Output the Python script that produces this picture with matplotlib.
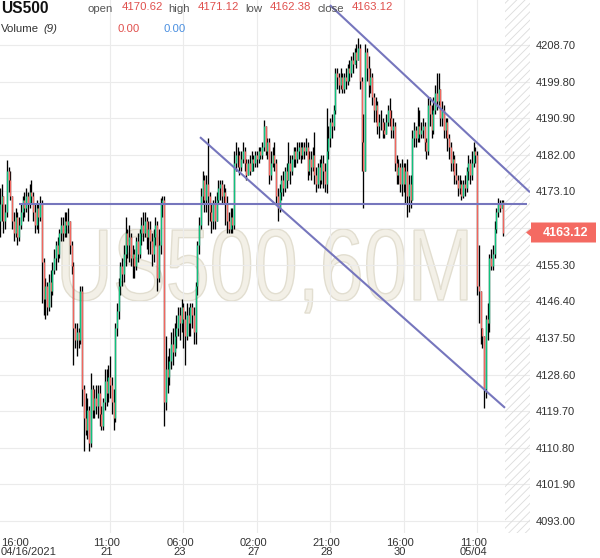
import numpy as np
import matplotlib.pyplot as plt
from matplotlib.patches import PathPatch, Polygon
from matplotlib.textpath import TextPath
from matplotlib.font_manager import FontProperties
from matplotlib.transforms import Affine2D, IdentityTransform

plt.rcParams['font.family'] = ['Liberation Sans', 'DejaVu Sans']
plt.rcParams['hatch.linewidth'] = 0.6

symbol = 'US500'
period = '60M'
volume_values = [0.00, 0.00]

# hourly candles, open of each bar = previous close
first_open = 4166.0
closes = [
    4170, 4172, 4166, 4168, 4178, 4176, 4172, 4166, 4163, 4167,
    4162, 4165, 4168, 4171, 4169, 4172, 4170, 4173, 4172, 4168,
    4165, 4169, 4167, 4170, 4156, 4147, 4150, 4145, 4151, 4149,
    4154, 4157, 4160, 4158, 4163, 4165, 4163, 4166, 4165, 4166,
    4160, 4155, 4140, 4137, 4139, 4137, 4149, 4125, 4118, 4115,
    4120, 4112, 4125, 4120, 4123, 4121, 4124, 4119, 4116, 4122,
    4127, 4124, 4128, 4126, 4122, 4118, 4140, 4144, 4150, 4155,
    4153, 4158, 4163, 4160, 4162, 4157, 4158, 4155, 4161, 4158,
    4163, 4165, 4163, 4166, 4162, 4164, 4161, 4158, 4162, 4165,
    4152, 4160, 4170, 4171, 4122, 4130, 4128, 4132, 4136, 4134,
    4138, 4140, 4143, 4141, 4145, 4142, 4138, 4143, 4141, 4145,
    4143, 4139, 4150, 4160, 4165, 4172, 4176, 4171, 4175, 4172,
    4168, 4166, 4170, 4166, 4171, 4174, 4175, 4172, 4173, 4170,
    4166, 4164, 4167, 4165, 4180, 4182, 4182, 4179, 4181, 4183,
    4180, 4177, 4180, 4178, 4181, 4180, 4182, 4181, 4183, 4182,
    4184, 4189, 4183, 4185, 4177, 4180, 4182, 4180, 4172, 4169,
    4173, 4176, 4174, 4178, 4176, 4180, 4178, 4181, 4183, 4181,
    4183, 4184, 4182, 4184, 4183, 4184, 4178, 4181, 4179, 4182,
    4177, 4175, 4179, 4176, 4180, 4178, 4175, 4183, 4186, 4190,
    4189, 4193, 4202, 4201, 4199, 4201, 4198, 4201, 4200, 4203,
    4202, 4205, 4204, 4207, 4205, 4208, 4200, 4185, 4178, 4207,
    4203, 4199, 4201, 4196, 4193, 4194, 4189, 4190, 4190, 4188,
    4187, 4190, 4193, 4191, 4188, 4189, 4180, 4177, 4179, 4175,
    4179, 4175, 4178, 4172, 4175, 4171, 4186, 4188, 4186, 4189,
    4187, 4188, 4189, 4185, 4183, 4194, 4192, 4188, 4193, 4197,
    4195, 4198, 4191, 4193, 4188, 4190, 4186, 4184, 4180, 4181,
    4177, 4176, 4174, 4175, 4172, 4175, 4174, 4178, 4180, 4177,
    4180, 4183, 4182, 4150, 4149, 4140, 4138, 4125, 4142, 4141,
    4157, 4155, 4158, 4164, 4168, 4170, 4169, 4170.62, 4163.12,
]
highs = [
    4174, 4175, 4172, 4170, 4180.7, 4179, 4178, 4172, 4168, 4169,
    4168, 4167, 4170, 4172, 4173, 4174, 4173, 4175, 4176, 4173,
    4170, 4171, 4170, 4172, 4171, 4157, 4152, 4151, 4153, 4154,
    4156, 4159, 4161, 4162, 4164, 4167, 4167, 4168, 4168, 4169,
    4166, 4161, 4156, 4141, 4141, 4140, 4150, 4150, 4126, 4124,
    4123, 4121, 4129, 4126, 4125, 4126, 4126, 4126, 4121, 4123,
    4130, 4130, 4131, 4133, 4128, 4125, 4141, 4146, 4152, 4156,
    4157, 4160, 4167, 4164, 4165, 4163, 4160, 4159, 4162, 4163,
    4164, 4167, 4168, 4168, 4167, 4166, 4166, 4163, 4164, 4167,
    4166, 4164, 4171.5, 4172, 4172, 4138, 4133, 4135, 4139, 4140,
    4141, 4143, 4145, 4145, 4147, 4146, 4144, 4146, 4145, 4146,
    4146, 4145, 4151, 4161, 4167, 4174, 4178, 4177, 4177, 4186,
    4173, 4170, 4171, 4172, 4173, 4176, 4176, 4176, 4175, 4174,
    4172, 4168, 4169, 4169, 4183, 4185, 4184, 4183, 4183, 4185,
    4184, 4181, 4181, 4182, 4183, 4182, 4183, 4183, 4184, 4184,
    4185, 4190.5, 4189, 4186, 4186, 4183, 4184, 4185, 4181, 4174,
    4175, 4177, 4178, 4179, 4180, 4185, 4182, 4182, 4184, 4184,
    4185, 4185, 4185, 4185, 4185, 4186, 4185, 4183, 4183, 4184,
    4187.5, 4179, 4180, 4181, 4182, 4182, 4180, 4193.5, 4189, 4191,
    4192, 4194, 4203, 4203, 4202, 4203, 4202, 4202, 4203, 4204,
    4205, 4206, 4207, 4208, 4209, 4210.5, 4209, 4201, 4192, 4209,
    4208, 4206, 4203, 4202, 4197, 4196, 4195, 4192, 4193, 4191,
    4190, 4192, 4194, 4195.8, 4193, 4191, 4190, 4182, 4181, 4180,
    4181, 4180, 4180, 4181, 4177, 4177, 4188, 4190, 4189, 4193.6,
    4193, 4190, 4191, 4190, 4186, 4196, 4196, 4194, 4196, 4199,
    4202, 4202, 4198, 4195, 4194, 4191, 4191, 4187, 4185, 4183,
    4182, 4180, 4177, 4177, 4176, 4176, 4177, 4179, 4182, 4181,
    4183, 4185, 4184, 4183, 4160, 4149, 4140, 4138, 4143, 4146,
    4158, 4159, 4160, 4166, 4169, 4171.5, 4171, 4171, 4171.12,
]
lows = [
    4162, 4166, 4163, 4164, 4167, 4173, 4171, 4164, 4161, 4162,
    4160, 4161, 4164, 4166, 4167, 4168, 4166, 4169, 4170, 4166,
    4163, 4164, 4163, 4166, 4146, 4143, 4142, 4143, 4144, 4145,
    4148, 4153, 4154, 4156, 4157, 4161, 4161, 4162, 4162, 4163,
    4158, 4153, 4131, 4135, 4133, 4135, 4136, 4121, 4110, 4114,
    4113, 4110, 4111, 4118, 4118, 4119, 4118, 4116, 4115, 4115,
    4120, 4121, 4122, 4123, 4119, 4115, 4117, 4138, 4142, 4148,
    4150, 4151, 4155, 4157, 4156, 4155, 4152, 4152, 4154, 4156,
    4157, 4160, 4161, 4162, 4159, 4158, 4158, 4155, 4156, 4160,
    4149, 4151, 4158, 4167, 4116, 4120, 4124, 4126, 4130, 4131,
    4133, 4135, 4138, 4137, 4139, 4135, 4131, 4137, 4138, 4138,
    4140, 4136, 4136, 4148, 4158, 4164, 4170, 4168, 4168, 4165,
    4166, 4163, 4164, 4164, 4166, 4170, 4171, 4170, 4170, 4165,
    4163, 4163, 4163, 4163, 4164, 4178, 4179, 4177, 4178, 4180,
    4178, 4176, 4177, 4177, 4178, 4178, 4179, 4179, 4180, 4181,
    4181, 4183, 4182, 4181, 4175, 4176, 4179, 4178, 4170, 4166,
    4168, 4171, 4172, 4173, 4174, 4176, 4175, 4177, 4179, 4179,
    4180, 4181, 4180, 4181, 4181, 4182, 4176, 4177, 4176, 4178,
    4175, 4173, 4174, 4174, 4175, 4174, 4173, 4172.7, 4181, 4184,
    4186, 4188, 4192, 4198, 4197, 4198, 4197, 4197, 4198, 4199,
    4200, 4201, 4202, 4204, 4203, 4205, 4198, 4178, 4169, 4178,
    4200, 4196, 4197, 4194, 4190, 4190, 4187, 4186, 4188, 4186,
    4186, 4187, 4189, 4189, 4186, 4186, 4178, 4175, 4175, 4173,
    4172, 4173, 4170, 4167, 4168, 4169, 4171, 4184, 4184, 4185,
    4185, 4186, 4186, 4183, 4181, 4182, 4189, 4186, 4187, 4192,
    4193, 4194, 4189, 4189, 4186, 4186, 4183, 4181, 4178, 4178,
    4175, 4175, 4172, 4172.5, 4171, 4171.5, 4172, 4173, 4176, 4175,
    4176, 4179, 4180, 4148, 4141, 4136, 4135, 4120.5, 4123, 4137,
    4139, 4154, 4154, 4157, 4163, 4167, 4168, 4169, 4162.38,
]

x_tick_bars = [21, 63, 105, 147, 189, 231, 273]
x_tick_labels = ['16:00\n04/16/2021', '11:00\n21', '06:00\n23', '02:00\n27',
                 '21:00\n28', '16:00\n30', '11:00\n05/04']
y_ticks = [4093.00, 4101.90, 4110.80, 4119.70, 4128.60, 4137.50, 4146.40,
           4155.30, 4164.20, 4173.10, 4182.00, 4190.90, 4199.80, 4208.70]

# trend lines drawn on the chart, as (bar, price) ends
hline_bars = [10.9, 301.5]
hline_prices = [4170.05, 4170.05]
upper_bars = [188.8, 303.3]
upper_prices = [4218.4, 4172.9]
lower_bars = [114.5, 289.0]
lower_prices = [4186.3, 4120.5]
future_start = 289.0

GREEN = '#0fc27d'
RED = '#f2665e'
LINE = '#7676bd'
GRID = '#ebebeb'

c = np.array(closes, dtype=float)
o = np.array([first_open] + closes[:-1], dtype=float)
h = np.maximum(np.array(highs, dtype=float), np.maximum(o, c))
l = np.minimum(np.array(lows, dtype=float), np.minimum(o, c))
bars = np.arange(len(c))
body_colors = np.where(c >= o, GREEN, RED)

W, H = 600, 558
fig = plt.figure(figsize=(6, 5.58), dpi=100)
ax = fig.add_axes([0, 25 / H, 530 / W, 533 / H])
ax.set_xlim(0.06, 303.3)
ax.set_ylim(4090.07, 4219.64)
for s in ax.spines.values():
    s.set_visible(False)

# watermark
fp = FontProperties(family='Liberation Sans')
tp = TextPath((0, 0), symbol + ',' + period, size=100, prop=fp)
cap = TextPath((0, 0), symbol, size=100, prop=fp).get_extents()
ext = tp.get_extents()
sx = 405 / ext.width
sy = 72 / cap.height
tr = Affine2D().translate(-ext.x0, 0).scale(sx, sy).translate(62, H - 300)
wm = PathPatch(tr.transform_path(tp), facecolor='#f3f0e7', edgecolor='#e2ded0',
               lw=1.0, transform=IdentityTransform(), zorder=0.5)
ax.add_patch(wm)

# grid
for yt in y_ticks:
    ax.axhline(yt, color=GRID, lw=0.8, zorder=1)
for xb in x_tick_bars[1:]:
    ax.axvline(xb, color=GRID, lw=0.8, zorder=1)

# future area
ax.axvspan(future_start, 303.3, facecolor='none', edgecolor='#dcdcdc',
           hatch='////', lw=0, zorder=1)

# candles
ax.vlines(bars, l, h, color='black', lw=0.95, zorder=2)
ax.vlines(bars, o, c, color=body_colors, lw=0.95, zorder=3)

# trend lines
for bx, py in [(hline_bars, hline_prices), (upper_bars, upper_prices),
               (lower_bars, lower_prices)]:
    ax.plot(bx, py, color=LINE, lw=1.5, zorder=4, solid_capstyle='butt')

# axes; the label hidden behind the last price tag is left blank
ax.yaxis.tick_right()
ax.set_yticks(y_ticks)
ax.set_yticklabels(['' if abs(v - c[-1]) < 3 else f'{v:.2f}' for v in y_ticks])
ax.tick_params(axis='y', length=0, pad=4.5, labelsize=8, labelcolor='#333333')
ax.set_xticks([])
for i, (xb, lab) in enumerate(zip(x_tick_bars, x_tick_labels)):
    if i == 0:
        ax.annotate(lab, xy=(0, 0), xycoords='axes fraction', xytext=(0.8, -3.5),
                    textcoords='offset points', ha='left', va='top',
                    fontsize=8, color='#333333', linespacing=0.95)
    else:
        ax.annotate(lab, xy=(xb, 0), xycoords=('data', 'axes fraction'),
                    xytext=(-2.5, -3.5), textcoords='offset points', ha='center',
                    va='top', fontsize=8, color='#333333', linespacing=0.95)


def px(x, y):
    return x / W, 1 - y / H


# header
fig.text(*px(1, 12.7), symbol, fontsize=11.2, weight='bold', color='#111111',
         va='baseline')
vals = [('open', o[-1], 88, 122), ('high', h[-1], 168, 198),
        ('low', l[-1], 245, 270), ('close', c[-1], 317, 352)]
for name, v, lx, vx in vals:
    fig.text(*px(lx, 11.7), name, fontsize=8.2, color='#555555', va='baseline')
    fig.text(*px(vx, 10), f'{v:.2f}', fontsize=8.2, color='#e0504d', va='baseline')
fig.text(*px(1, 32), 'Volume', fontsize=8.2, color='#333333', va='baseline')
fig.text(*px(43, 32), '(9)', fontsize=8.2, color='#333333', style='italic',
         va='baseline')
fig.text(*px(117, 31.7), f'{volume_values[0]:.2f}', fontsize=8.2,
         color='#e0504d', va='baseline')
fig.text(*px(163, 31.7), f'{volume_values[1]:.2f}', fontsize=8.2,
         color='#4a8fe0', va='baseline')

# last price tag
ty = ax.transData.transform((0, c[-1]))[1]
tag = Polygon([[526, ty], [531, ty + 4], [531, ty + 10], [596, ty + 10],
               [596, ty - 10], [531, ty - 10], [531, ty - 4]], closed=True,
              transform=IdentityTransform(), facecolor='#f46a62',
              edgecolor='none', zorder=5)
fig.add_artist(tag)
fig.text(565.5 / W, ty / H, f'{c[-1]:.2f}', color='white', weight='bold',
         fontsize=9, ha='center', va='center', zorder=6)

fig.savefig('out.png', dpi=100)
